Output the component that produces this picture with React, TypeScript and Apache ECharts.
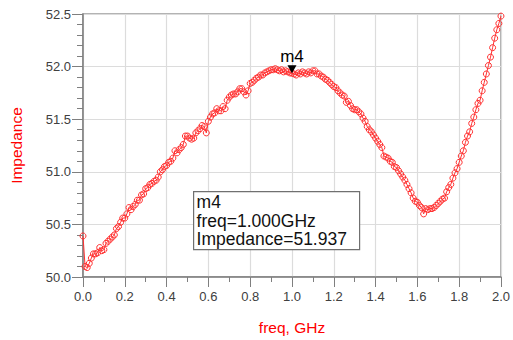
import React, { useEffect, useRef } from "react";
import * as echarts from "echarts";

// Sweep: 0 to 2 GHz, 0.01 GHz step (201 points)
const freqStartGHz = 0;
const freqStepGHz = 0.01;

const impedance: number[] = [
  50.39, 50.10, 50.09, 50.13, 50.18, 50.22, 50.22, 50.23, 50.28, 50.25,
  50.26, 50.32, 50.34, 50.36, 50.38, 50.40, 50.46, 50.48, 50.52, 50.56,
  50.56, 50.60, 50.66, 50.64, 50.67, 50.69, 50.73, 50.73, 50.78, 50.79,
  50.84, 50.85, 50.88, 50.89, 50.91, 50.92, 50.95, 51.00, 51.02, 51.05,
  51.06, 51.09, 51.10, 51.13, 51.20, 51.18, 51.21, 51.23, 51.26, 51.34,
  51.34, 51.32, 51.31, 51.32, 51.37, 51.39, 51.41, 51.44, 51.43, 51.37,
  51.48, 51.52, 51.55, 51.56, 51.60, 51.58, 51.58, 51.62, 51.60, 51.68,
  51.71, 51.73, 51.74, 51.74, 51.76, 51.79, 51.79, 51.76, 51.73, 51.77,
  51.84, 51.85, 51.87, 51.89, 51.90, 51.92, 51.92, 51.94, 51.95, 51.96,
  51.97, 51.97, 51.98, 51.97, 51.96, 51.97, 51.95, 51.96, 51.95, 51.94,
  51.937, 51.93, 51.92, 51.94, 51.93, 51.95, 51.94, 51.93, 51.95, 51.94,
  51.96, 51.96, 51.93, 51.93, 51.91, 51.90, 51.88, 51.87, 51.85, 51.83,
  51.81, 51.80, 51.77, 51.75, 51.73, 51.72, 51.66, 51.67, 51.63, 51.60,
  51.59, 51.59, 51.57, 51.55, 51.51, 51.48, 51.43, 51.40, 51.38, 51.35,
  51.32, 51.29, 51.26, 51.23, 51.15, 51.14, 51.13, 51.10, 51.09, 51.05,
  51.04, 51.01, 50.98, 50.95, 50.92, 50.88, 50.84, 50.80, 50.75, 50.72,
  50.71, 50.68, 50.66, 50.60, 50.65, 50.64, 50.65, 50.65, 50.66, 50.68,
  50.70, 50.72, 50.74, 50.75, 50.81, 50.85, 50.88, 50.94, 50.99, 51.03,
  51.09, 51.15, 51.20, 51.28, 51.34, 51.38, 51.46, 51.52, 51.59, 51.65,
  51.68, 51.77, 51.85, 51.93, 52.01, 52.09, 52.18, 52.27, 52.35, 52.41,
  52.48,
];

const markerName = "m4";
const markerFreqGHz = 1.0;
const markerImpedance = 51.937;

const xAxisName = "freq, GHz";
const yAxisName = "Impedance";

const FONT = "'Liberation Sans', Arial, sans-serif";

export default function App() {
  const ref = useRef<HTMLDivElement>(null);

  useEffect(() => {
    if (!ref.current) return;
    const chart = echarts.init(ref.current, undefined, { renderer: "svg" });

    const seriesData = impedance.map((v, i) => [
      +(freqStartGHz + i * freqStepGHz).toFixed(2),
      v,
    ]);

    const axisGray = "#7f7f7f";

    chart.setOption({
      animation: false,
      backgroundColor: "#ffffff",
      grid: {
        left: 79,
        right: 11,
        top: 14,
        bottom: 59,
        show: true,
        borderColor: "#9a9a9a",
        borderWidth: 1.5,
      },
      xAxis: {
        type: "value",
        min: 0,
        max: 2,
        interval: 0.2,
        name: xAxisName,
        nameLocation: "middle",
        nameGap: 42,
        nameTextStyle: { color: "#ff0000", fontSize: 15.5, fontFamily: FONT },
        axisLine: { show: true, onZero: false, lineStyle: { color: axisGray, width: 1.5 } },
        axisTick: { show: true, length: 10, lineStyle: { color: axisGray, width: 1 } },
        minorTick: { show: true, splitNumber: 2, length: 5, lineStyle: { color: axisGray, width: 1 } },
        splitLine: { show: true, lineStyle: { color: "#dcdcdc", width: 1.2 } },
        axisLabel: {
          formatter: (v: number) => v.toFixed(1),
          color: "#404040",
          fontSize: 13,
          fontFamily: FONT,
          margin: 13,
        },
      },
      yAxis: {
        type: "value",
        min: 50,
        max: 52.5,
        interval: 0.5,
        name: yAxisName,
        nameLocation: "middle",
        nameGap: 59,
        nameTextStyle: { color: "#ff0000", fontSize: 15.5, fontFamily: FONT },
        axisLine: { show: true, onZero: false, lineStyle: { color: axisGray, width: 1.5 } },
        axisTick: { show: true, length: 11, lineStyle: { color: axisGray, width: 1 } },
        minorTick: { show: true, splitNumber: 5, length: 6, lineStyle: { color: axisGray, width: 1 } },
        splitLine: { show: true, lineStyle: { color: "#dcdcdc", width: 1.2 } },
        axisLabel: {
          formatter: (v: number) => v.toFixed(1),
          color: "#404040",
          fontSize: 13,
          fontFamily: FONT,
          margin: 12,
        },
      },
      series: [
        {
          type: "line",
          data: seriesData,
          symbol: "circle",
          symbolSize: 6,
          showAllSymbol: true,
          lineStyle: { color: "#ff3030", width: 1 },
          itemStyle: { color: "rgba(255,255,255,0)", borderColor: "#ff3030", borderWidth: 1 },
          markPoint: {
            symbol: "triangle",
            symbolSize: [9, 8],
            symbolRotate: 180,
            symbolOffset: [0, -4],
            itemStyle: { color: "#000000", borderWidth: 0 },
            label: {
              show: true,
              formatter: markerName,
              position: "top",
              distance: 0,
              color: "#000000",
              fontSize: 17,
              fontFamily: FONT,
            },
            data: [{ coord: [markerFreqGHz, markerImpedance] }],
          },
        },
      ],
      graphic: [
        {
          type: "group",
          left: 193,
          top: 191,
          z: 100,
          children: [
            {
              type: "rect",
              z: 100,
              shape: { x: 0, y: 0, width: 166, height: 58 },
              style: { fill: "#ffffff", stroke: "#707070", lineWidth: 1.2 },
            },
            {
              type: "text",
              z: 101,
              x: 3,
              y: 1.5,
              style: {
                text: [
                  markerName,
                  "freq=" + markerFreqGHz.toFixed(3) + "GHz",
                  "Impedance=" + markerImpedance.toFixed(3),
                ].join("\n"),
                fill: "#111111",
                fontSize: 17.5,
                lineHeight: 18.3,
                fontFamily: FONT,
                verticalAlign: "top",
                align: "left",
              },
            },
          ],
        },
      ],
    });

    return () => chart.dispose();
  }, []);

  return (
    <div
      ref={ref}
      style={{ position: "fixed", left: 0, top: 0, width: 513, height: 340, background: "#fff" }}
    />
  );
}
